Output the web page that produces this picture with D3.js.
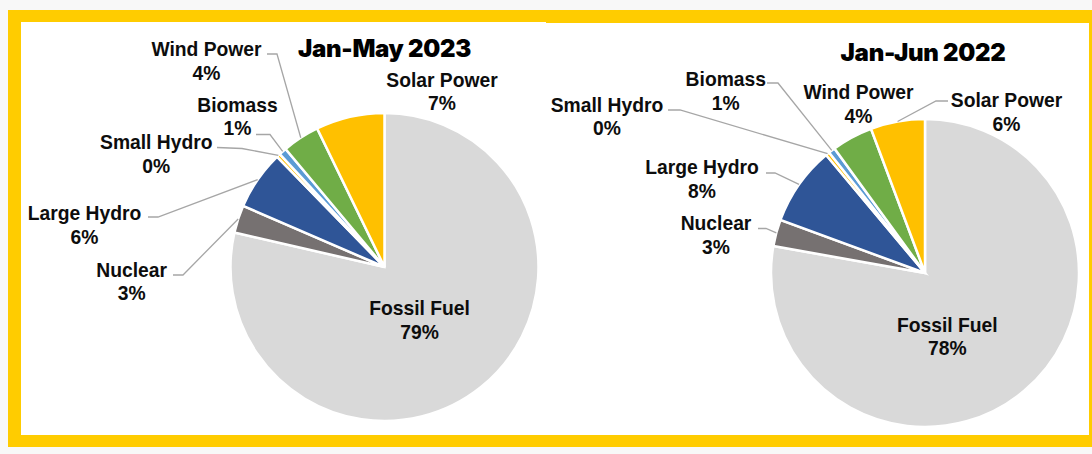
<!DOCTYPE html>
<html>
<head>
<meta charset="utf-8">
<script src="https://cdn.jsdelivr.net/npm/d3@7"></script>
<style>
  body { margin: 0; background: #f8f8f8; }
  svg { display: block; }
</style>
</head>
<body>
<div id="my_dataviz"></div>
<script>

// data (share of generation, %)
var categories = ["Fossil Fuel", "Nuclear", "Large Hydro", "Small Hydro", "Biomass", "Wind Power", "Solar Power"];
var values_2023 = [78.6, 2.9, 6.2, 0.4, 0.8, 3.9, 7.2];
var values_2022 = [77.8, 2.8, 8.3, 0.4, 0.7, 4.3, 5.7];
var pct_labels_2023 = ["79%", "3%", "6%", "0%", "1%", "4%", "7%"];
var pct_labels_2022 = ["78%", "3%", "8%", "0%", "1%", "4%", "6%"];
var titles = ["Jan-May 2023", "Jan-Jun 2022"];
var colors = ["#d9d9d9", "#767171", "#2f5597", "#ffc000", "#5b9bd5", "#70ad47", "#ffc000"];

// where things sit (label centre x, first baseline y, leader start + elbow)
var layout_2023 = {
  cx: 384.5, cy: 267, r: 154, title: [384.5, 56.5],
  labels: [
    {x: 419.5, y: 315},
    {x: 131.7, y: 276.7, lead: [[173, 275], [183, 275]]},
    {x: 84.5, y: 220, lead: [[148, 217], [158, 217]]},
    {x: 156.3, y: 149, lead: [[217, 147.5], [242, 148.5]]},
    {x: 237.5, y: 111.7, lead: [[256, 134.5], [270, 134.5]]},
    {x: 206.5, y: 56, lead: [[267, 54], [277, 54]]},
    {x: 442, y: 86.7}
  ]
};
var layout_2022 = {
  cx: 925, cy: 273, r: 154, title: [923, 61],
  labels: [
    {x: 947.3, y: 331.7},
    {x: 716, y: 230, lead: [[758, 228.5], [766, 228.5]]},
    {x: 702, y: 174, lead: [[766, 173], [775, 173]]},
    {x: 607, y: 111.7, lead: [[668, 110], [680, 110]]},
    {x: 725.8, y: 86, lead: [[767, 83], [778, 83]]},
    {x: 858.5, y: 99},
    {x: 1006.5, y: 107, lead: [[948, 101], [936, 101]]}
  ]
};

var width = 1092, height = 454;

var svg = d3.select("#my_dataviz")
  .append("svg")
    .attr("width", width)
    .attr("height", height);

// yellow frame with the two white panes
svg.append("rect")
    .attr("x", 8).attr("y", 10)
    .attr("width", width - 8).attr("height", 437)
    .attr("fill", "#ffcc00");
svg.append("rect")
    .attr("x", 21).attr("y", 22)
    .attr("width", 525).attr("height", 413)
    .attr("fill", "#ffffff");
svg.append("rect")
    .attr("x", 545).attr("y", 23)
    .attr("width", 544).attr("height", 412)
    .attr("fill", "#ffffff");

function draw_pie(values, pct_labels, title, lay)
{
  var pie = d3.pie().sort(null).value(function (d) { return d; });
  var arcs = pie(values);

  var arc = d3.arc().innerRadius(0).outerRadius(lay.r);
  // zero-width arc, its centroid sits on the rim (leader line targets)
  var rim = d3.arc().innerRadius(lay.r).outerRadius(lay.r);

  var g = svg.append("g")
    .attr("transform", "translate(" + lay.cx + "," + lay.cy + ")");

  g.selectAll("path")
    .data(arcs)
    .enter()
    .append("path")
      .attr("d", arc)
      .attr("fill", function (d, i) { return colors[i]; })
      .attr("stroke", "#ffffff")
      .attr("stroke-width", 2.5)
      .attr("stroke-linejoin", "miter");

  // leader lines
  arcs.forEach(function (d, i) {
    var lb = lay.labels[i];
    if (!lb.lead) return;
    var p = rim.centroid(d);
    var pts = [lb.lead[0], lb.lead[1], [p[0] + lay.cx, p[1] + lay.cy]];
    svg.append("path")
      .attr("d", d3.line()(pts))
      .attr("fill", "none")
      .attr("stroke", "#a6a6a6")
      .attr("stroke-width", 1.3);
  });

  // labels: name + percentage
  var t = svg.append("g")
    .selectAll("text")
    .data(arcs)
    .enter()
    .append("text")
      .attr("text-anchor", "middle")
      .style("font-family", "'Liberation Sans', Arial, sans-serif")
      .style("font-weight", "bold")
      .style("font-size", "19.3px")
      .attr("fill", "#0d0d0d");
  t.append("tspan")
    .attr("x", function (d, i) { return lay.labels[i].x; })
    .attr("y", function (d, i) { return lay.labels[i].y; })
    .text(function (d, i) { return categories[i]; });
  t.append("tspan")
    .attr("x", function (d, i) { return lay.labels[i].x; })
    .attr("y", function (d, i) { return lay.labels[i].y + 23.5; })
    .text(function (d, i) { return pct_labels[i]; });

  // title
  svg.append("text")
    .attr("x", lay.title[0])
    .attr("y", lay.title[1])
    .attr("text-anchor", "middle")
    .style("font-family", "Inter, 'Noto Sans', sans-serif")
    .style("font-weight", "900")
    .style("font-size", "24px")
    .style("letter-spacing", "-0.3px")
    .attr("fill", "#000000")
    .text(title);
}

draw_pie(values_2023, pct_labels_2023, titles[0], layout_2023);
draw_pie(values_2022, pct_labels_2022, titles[1], layout_2022);

</script>
</body>
</html>
